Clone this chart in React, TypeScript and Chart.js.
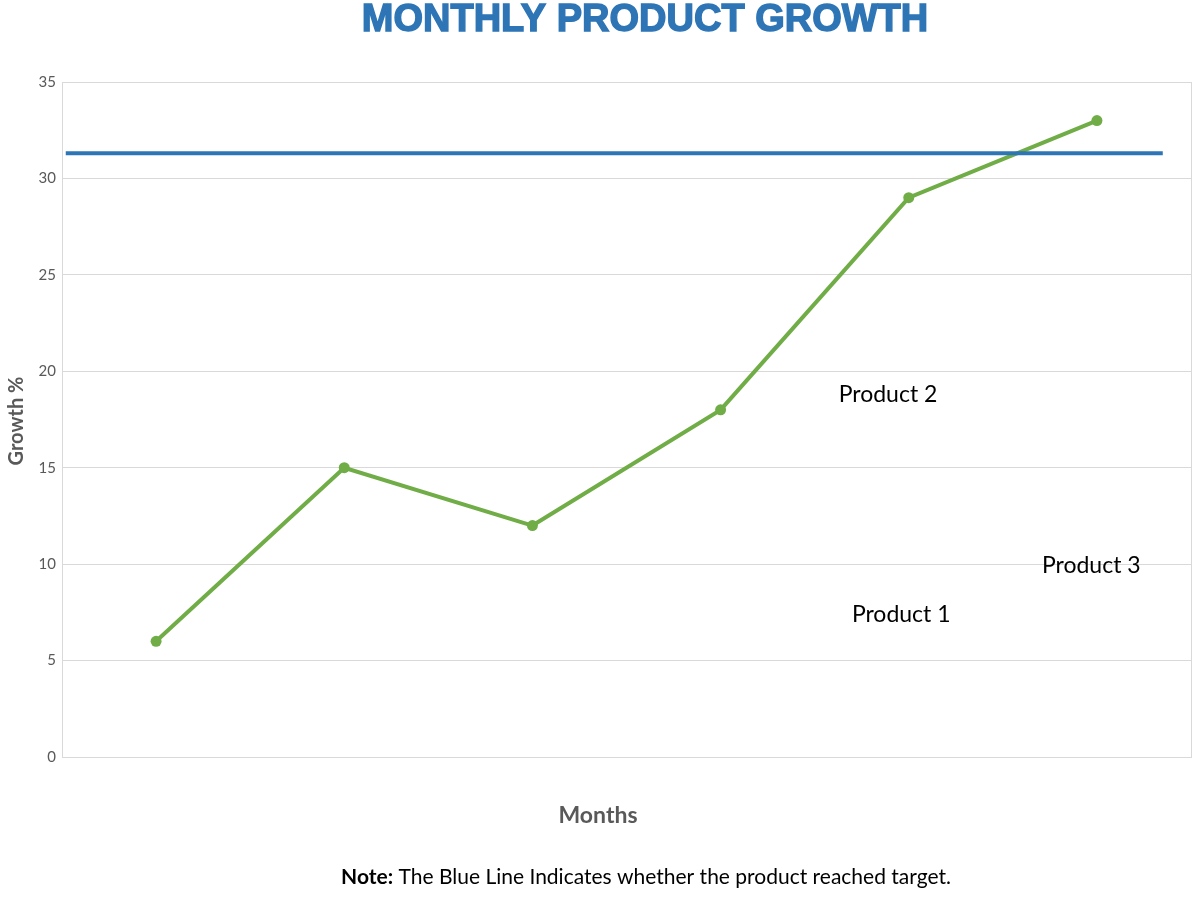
import React, { useEffect, useRef } from "react";
import { Chart, registerables } from "chart.js";

Chart.register(...registerables);

// Six months of product growth (%), plotted on a category axis
const months = ["Month 1", "Month 2", "Month 3", "Month 4", "Month 5", "Month 6"];
const growth = [6, 15, 12, 18, 29, 33];

// Target growth level shown as the blue reference line
const targetValue = 31.3;
// Horizontal extent of the target line, in category-index units
const targetStart = -0.48;
const targetEnd = 5.35;

// Free-floating product labels (text, category position, value)
const productNames = ["Product 2", "Product 3", "Product 1"];
const productX = [3.89, 4.97, 3.96];
const productY = [18.8, 9.9, 7.4];

const yTicks = { min: 0, max: 35, step: 5 };

const GRID = "#d9d9d9";
const AXIS_TEXT = "#595959";

const decorations = {
  id: "decorations",
  beforeDatasetsDraw(chart: any) {
    const { ctx, chartArea } = chart;
    ctx.save();
    ctx.strokeStyle = GRID;
    ctx.lineWidth = 1;
    ctx.strokeRect(
      Math.round(chartArea.left) + 0.5,
      Math.round(chartArea.top) + 0.5,
      Math.round(chartArea.right - chartArea.left),
      Math.round(chartArea.bottom - chartArea.top)
    );
    ctx.restore();
  },
  afterDraw(chart: any) {
    const { ctx } = chart;
    const xs = chart.scales.xLin;
    const ys = chart.scales.y;
    ctx.save();

    // Title
    ctx.save();
    ctx.translate(645, 21);
    ctx.scale(1.0, 1.0);
    ctx.font = "bold 38px 'Liberation Sans', Arial, sans-serif";
    ctx.fillStyle = "#2e75b6";
    ctx.strokeStyle = "#2e75b6";
    ctx.lineWidth = 1.4;
    ctx.textAlign = "center";
    ctx.textBaseline = "middle";
    ctx.fillText("MONTHLY PRODUCT GROWTH", 0, 0);
    ctx.strokeText("MONTHLY PRODUCT GROWTH", 0, 0);
    ctx.restore();

    // Axis titles
    ctx.fillStyle = AXIS_TEXT;
    ctx.font = "bold 23px Lato, sans-serif";
    ctx.textAlign = "center";
    ctx.textBaseline = "middle";
    ctx.fillText("Months", 598, 816);

    ctx.save();
    ctx.translate(17, 421);
    ctx.rotate(-Math.PI / 2);
    ctx.font = "bold 20px Lato, sans-serif";
    ctx.fillText("Growth %", 0, 0);
    ctx.restore();

    // Product labels placed in data coordinates
    ctx.fillStyle = "#000000";
    ctx.font = "23px Lato, sans-serif";
    productNames.forEach((name, i) => {
      ctx.fillText(name, xs.getPixelForValue(productX[i]), ys.getPixelForValue(productY[i]));
    });

    // Footnote
    ctx.font = "bold 21px Lato, sans-serif";
    const bold = "Note:";
    const rest = " The Blue Line Indicates whether the product reached target.";
    const bw = ctx.measureText(bold).width;
    ctx.font = "21px Lato, sans-serif";
    const rw = ctx.measureText(rest).width;
    const startX = 646 - (bw + rw) / 2;
    ctx.textAlign = "left";
    ctx.font = "bold 21px Lato, sans-serif";
    ctx.fillText(bold, startX, 877);
    ctx.font = "21px Lato, sans-serif";
    ctx.fillText(rest, startX + bw, 877);

    ctx.restore();
  },
};

export default function App() {
  const canvasRef = useRef<HTMLCanvasElement | null>(null);

  useEffect(() => {
    if (!canvasRef.current) return;
    const chart = new Chart(canvasRef.current, {
      type: "line",
      data: {
        labels: months,
        datasets: [
          {
            label: "Target",
            data: [
              { x: targetStart, y: targetValue },
              { x: targetEnd, y: targetValue },
            ],
            xAxisID: "xLin",
            borderColor: "#2e75b6",
            borderWidth: 4,
            pointRadius: 0,
            fill: false,
          },
          {
            label: "Growth",
            data: growth,
            xAxisID: "x",
            borderColor: "#70ad47",
            backgroundColor: "#70ad47",
            borderWidth: 4,
            pointRadius: 5.5,
            pointBorderWidth: 0,
            tension: 0,
            fill: false,
          },
        ],
      },
      options: {
        animation: false,
        responsive: false,
        maintainAspectRatio: false,
        layout: { padding: { top: 82, right: 9, bottom: 140, left: 0 } },
        plugins: {
          legend: { display: false },
          tooltip: { enabled: false },
          title: { display: false },
        },
        scales: {
          x: {
            type: "category",
            offset: true,
            grid: { display: false, drawTicks: false },
            border: { display: false },
            ticks: { display: false },
          },
          xLin: {
            type: "linear",
            display: false,
            min: -0.5,
            max: 5.5,
          },
          y: {
            min: yTicks.min,
            max: yTicks.max,
            afterFit(scale: any) {
              scale.width = 62;
            },
            grid: { color: GRID, lineWidth: 1, drawTicks: false },
            border: { display: true, color: GRID },
            ticks: {
              stepSize: yTicks.step,
              padding: 6,
              color: AXIS_TEXT,
              font: { family: "Lato, sans-serif", size: 15 },
            },
          },
        },
      },
      plugins: [decorations],
    });
    return () => chart.destroy();
  }, []);

  return (
    <div style={{ position: "absolute", left: 0, top: 0, width: 1200, height: 897, background: "#ffffff" }}>
      <canvas ref={canvasRef} width={1200} height={897} style={{ display: "block" }} />
    </div>
  );
}
